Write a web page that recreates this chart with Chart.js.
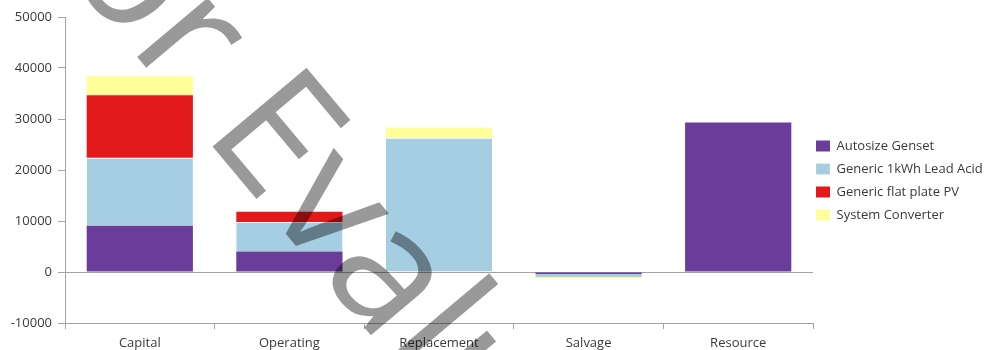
<!DOCTYPE html>
<html>
<head>
<meta charset="utf-8">
<script src="https://cdn.jsdelivr.net/npm/chart.js@4.4.1/dist/chart.umd.min.js"></script>
<style>
  html, body { margin: 0; padding: 0; background: #fff; }
  #wrap { width: 986px; height: 350px; position: relative; }
</style>
</head>
<body>
<div id="wrap"><canvas id="c"></canvas></div>
<script>
// Cost categories along the x axis
const categories = ['Capital', 'Operating', 'Replacement', 'Salvage', 'Resource'];

// Cost per component for each category
const autosizeGenset   = [9080, 4000, 0, -400, 29300];
const leadAcid1kWh     = [13300, 5800, 26300, -600, 0];
const flatPlatePV      = [12300, 2000, 0, 0, 0];
const systemConverter  = [3700, 0, 2000, -250, 0];

// Y axis range and spacing
const yMin = -10000;
const yMax = 50000;
const yStep = 10000;

const axisGray = '#a3a3a3';
const textColor = '#3a3a3a';

Chart.defaults.font.family = "'Open Sans', 'Noto Sans', sans-serif";
Chart.defaults.font.size = 13;
Chart.defaults.color = textColor;

// Diagonal "For Evaluation" stamp drawn over the plot
const stampPlugin = {
  id: 'stamp',
  afterDraw(chart) {
    const ctx = chart.ctx;
    ctx.save();
    ctx.font = "172px 'Open Sans', sans-serif";
    ctx.fillStyle = 'rgba(0,0,0,0.4)';
    ctx.textBaseline = 'alphabetic';
    ctx.textAlign = 'left';
    const lead = ctx.measureText('For ').width;
    const eBox = ctx.measureText('E').actualBoundingBoxLeft;
    ctx.translate(212, 146);
    ctx.rotate(50 * Math.PI / 180);
    ctx.fillText('For Evaluation Only', -(lead - eBox), 0);
    ctx.restore();
  }
};

// Keep the legend column snug against the plot's right edge
const legendPlacement = {
  id: 'legendPlacement',
  afterLayout(chart) {
    const lg = chart.legend;
    if (lg) {
      lg.left = chart.chartArea.right + 3 - lg.options.labels.padding;
      lg.right = chart.width;
      lg.top -= 3;
      lg.bottom -= 3;
    }
  }
};

new Chart(document.getElementById('c'), {
  type: 'bar',
  data: {
    labels: categories,
    datasets: [
      { label: 'Autosize Genset', data: autosizeGenset, backgroundColor: '#6a3d9a' },
      { label: 'Generic 1kWh Lead Acid', data: leadAcid1kWh, backgroundColor: '#a6cee3',
        borderColor: 'rgba(255,255,255,0.85)', borderWidth: { top: 1, left: 0, right: 0, bottom: 0 } },
      { label: 'Generic flat plate PV', data: flatPlatePV, backgroundColor: '#e31a1c' },
      { label: 'System Converter', data: systemConverter, backgroundColor: '#ffff99' }
    ]
  },
  options: {
    responsive: true,
    maintainAspectRatio: false,
    animation: false,
    layout: { padding: { top: 17, left: 0, right: 0, bottom: 0 } },
    datasets: {
      bar: { barPercentage: 0.71, categoryPercentage: 1.0, borderSkipped: 'start' }
    },
    plugins: {
      tooltip: { enabled: false },
      legend: {
        position: 'right',
        align: 'center',
        maxWidth: 173,
        labels: {
          boxWidth: 14,
          boxHeight: 11,
          padding: 10,
          color: textColor,
          font: { size: 13 }
        }
      }
    },
    scales: {
      x: {
        stacked: true,
        offset: true,
        border: { display: true, color: axisGray, width: 1 },
        grid: {
          offset: true,
          drawOnChartArea: false,
          drawTicks: true,
          tickLength: 6,
          tickColor: axisGray,
          color: axisGray
        },
        ticks: { padding: 6, color: textColor, font: { size: 13 } },
        afterFit(scale) { scale.height = 27; }
      },
      y: {
        stacked: true,
        min: yMin,
        max: yMax,
        border: { display: true, color: axisGray, width: 1 },
        grid: {
          drawTicks: true,
          tickLength: 7,
          tickColor: axisGray,
          color: (c) => (c.tick && c.tick.value === 0 ? axisGray : 'rgba(0,0,0,0)'),
          lineWidth: 1
        },
        ticks: {
          stepSize: yStep,
          padding: 6,
          color: textColor,
          font: { size: 13 },
          callback: (v) => String(v)
        },
        afterFit(scale) { scale.width = 65; }
      }
    }
  },
  plugins: [legendPlacement, stampPlugin]
});
</script>
</body>
</html>
